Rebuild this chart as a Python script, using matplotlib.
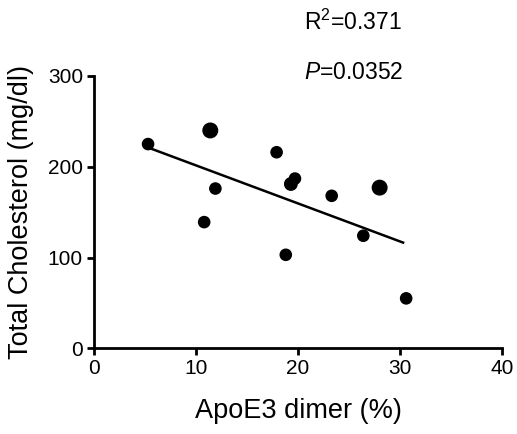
import numpy as np
import matplotlib
matplotlib.use("Agg")
import matplotlib.pyplot as plt

plt.rcParams["font.family"] = ["Liberation Sans", "DejaVu Sans"]
plt.rcParams["mathtext.fontset"] = "custom"
plt.rcParams["mathtext.rm"] = "Liberation Sans"
plt.rcParams["mathtext.it"] = "Liberation Sans:italic"

# data
apoe3_dimer = [5.3, 11.4, 10.8, 11.9, 17.9, 18.8, 19.7, 19.3, 23.3, 28.0, 26.4, 30.6]
cholesterol = [225, 240, 139, 176, 216, 103, 187, 181, 168, 177, 124, 55]
# bigger dots = overlapping samples
dot_size = [65, 110, 65, 65, 65, 65, 65, 80, 65, 110, 65, 65]

fit_slope = -4.19
fit_intercept = 243.4
fit_x = [5.3, 30.3]
r_squared = "0.371"
p_value = "0.0352"

fig = plt.figure(figsize=(5.17, 4.34), dpi=100)
ax = fig.add_axes([0.1818, 0.1975, 0.7893, 0.6274])

ax.scatter(apoe3_dimer, cholesterol, s=dot_size, color="black", zorder=3, clip_on=False)
fx = np.array(fit_x)
ax.plot(fx, fit_slope * fx + fit_intercept, color="black", lw=1.8)

ax.set_xlim(0, 40)
ax.set_ylim(0, 300)
ax.set_xticks([0, 10, 20, 30, 40])
ax.set_yticks([0, 100, 200, 300])
for s in ["top", "right"]:
    ax.spines[s].set_visible(False)
for s in ["left", "bottom"]:
    ax.spines[s].set_linewidth(2)
ax.tick_params(width=2, length=5, labelsize=15, pad=3)

ax.set_xlabel("ApoE3 dimer (%)", fontsize=19.5, labelpad=14)
ax.set_ylabel("Total Cholesterol (mg/dl)", fontsize=19.5, labelpad=10)

ax.text(20.6, 359, r"R$^2$=" + r_squared, fontsize=16.5, va="center", ha="left")
ax.text(20.6, 304, r"$P$=" + p_value, fontsize=16.5, va="center", ha="left")

fig.savefig("out.png", dpi=100)
